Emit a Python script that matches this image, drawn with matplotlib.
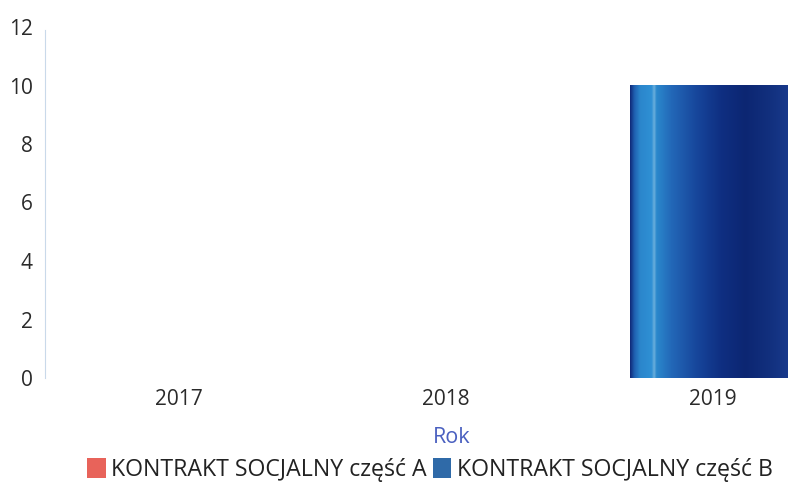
import matplotlib
matplotlib.use("Agg")
import matplotlib.pyplot as plt
import numpy as np
from matplotlib.patches import Patch
from matplotlib.colors import LinearSegmentedColormap

years = ["2017", "2018", "2019"]
series_a = [0, 0, 0]
series_b = [0, 0, 10]
labels = ["KONTRAKT SOCJALNY część A", "KONTRAKT SOCJALNY część B"]
yticks = [0, 2, 4, 6, 8, 10, 12]

plt.rcParams['font.family'] = ['Open Sans', 'DejaVu Sans']

fig = plt.figure(figsize=(7.88, 4.90), dpi=100)
ax = fig.add_axes([45/788, 112/490, 801/788, 351/490])

x = np.arange(len(years))
width = 0.615
bars_a = ax.bar(x, series_a, width, color="#e8635a", label=labels[0])
bars_b = ax.bar(x, series_b, width, bottom=series_a, color="#2d6fb0", label=labels[1])

grad = LinearSegmentedColormap.from_list("g", [
    (0.0, "#102a7a"), (0.025, "#1f5fb0"), (0.06, "#2b86cc"), (0.13, "#2f90d4"),
    (0.145, "#6aaedc"), (0.16, "#2a88cc"), (0.25, "#2368b8"), (0.4, "#17479c"),
    (0.55, "#0f2f82"), (0.7, "#0c2672"), (0.85, "#12307e"), (1.0, "#1a3c90")])
for b in bars_b:
    h = b.get_height()
    if h <= 0:
        continue
    x0, w, y0 = b.get_x(), b.get_width(), b.get_y()
    img = np.linspace(0, 1, 256).reshape(1, -1)
    im = ax.imshow(img, cmap=grad, aspect="auto", extent=[x0, x0 + w, y0, y0 + h],
                   interpolation="bilinear", zorder=b.get_zorder() + 0.1)
    im.set_clip_path(b)

ax.set_xlim(-0.5, 2.5)
ax.set_ylim(0, 12)
ax.set_yticks(yticks)
ax.set_xticks(x)
ax.set_xticklabels(years)
ax.tick_params(axis='both', length=0, labelsize=15, colors="#2a2a2a")
ax.tick_params(axis='y', pad=9)
ax.tick_params(axis='x', pad=8)
for s in ["top", "right", "bottom"]:
    ax.spines[s].set_visible(False)
ax.spines["left"].set_color("#c9d9ea")
ax.spines["left"].set_linewidth(0.8)
ax.spines["left"].set_bounds(0, 11.9)

fig.text(452/788, 1 - 437/490, "Rok", color="#4a60c0", fontsize=15.5, ha="center", va="center")

handles = [Patch(facecolor="#e8635a"), Patch(facecolor="#2f6aa8")]
fig.legend(handles, labels, loc="center", bbox_to_anchor=(430/788, 1 - 470/490), ncol=2,
           frameon=False, fontsize=16.7, handlelength=0.8, handleheight=0.9,
           handletextpad=0.25, columnspacing=0.25, labelcolor="#222222")

fig.savefig("out.png", dpi=100)
